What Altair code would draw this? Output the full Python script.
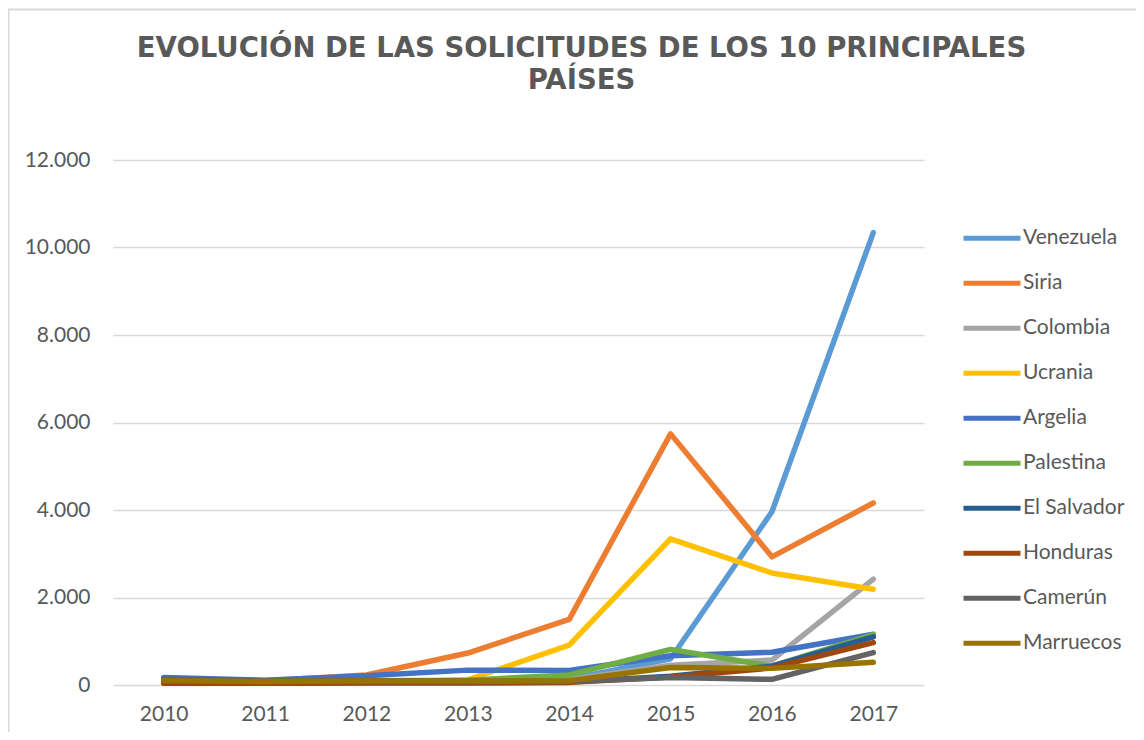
import altair as alt
import pandas as pd

years = [2010, 2011, 2012, 2013, 2014, 2015, 2016, 2017]
series = ["Venezuela", "Siria", "Colombia", "Ucrania", "Argelia", "Palestina",
          "El Salvador", "Honduras", "Camerún", "Marruecos"]
colors = ["#5B9BD5", "#ED7D31", "#A5A5A5", "#FFC000", "#4472C4", "#70AD47",
          "#255E91", "#9E480E", "#636363", "#997300"]

venezuela = [110, 60, 80, 60, 130, 600, 3960, 10340]
siria = [60, 100, 230, 730, 1500, 5740, 2930, 4160]
colombia = [100, 80, 90, 80, 120, 450, 570, 2420]
ucrania = [40, 60, 60, 120, 910, 3340, 2560, 2190]
argelia = [170, 110, 210, 340, 330, 670, 750, 1160]
palestina = [80, 90, 100, 110, 230, 815, 430, 1150]
el_salvador = [50, 40, 50, 50, 70, 200, 430, 1100]
honduras = [40, 40, 50, 50, 60, 180, 390, 970]
camerun = [130, 100, 100, 90, 80, 170, 130, 740]
marruecos = [100, 80, 90, 90, 100, 400, 380, 520]

values = [venezuela, siria, colombia, ucrania, argelia, palestina,
          el_salvador, honduras, camerun, marruecos]

rows = []
for si, (name, vals) in enumerate(zip(series, values)):
    for y, v in zip(years, vals):
        rows.append({"Año": str(y), "País": name, "Solicitudes": v, "orden": si})
df = pd.DataFrame(rows)

grey = "#595959"

lines = alt.Chart(df).mark_line(strokeWidth=5.5, strokeCap="round", strokeJoin="round").encode(
    x=alt.X("Año:O", scale=alt.Scale(paddingOuter=0.5, paddingInner=1),
            axis=alt.Axis(title=None, labelAngle=0, ticks=False, domain=False, grid=False,
                          labelFont="Lato", labelFontSize=21, labelColor=grey, labelPadding=18)),
    y=alt.Y("Solicitudes:Q", scale=alt.Scale(domain=[0, 12000]),
            axis=alt.Axis(title=None, values=[0, 2000, 4000, 6000, 8000, 10000, 12000],
                          labelExpr="replace(format(datum.value, ','), ',', '.')",
                          ticks=False, domain=False, gridColor="#D9D9D9", gridWidth=1.3,
                          labelFont="Lato", labelFontSize=21, labelColor=grey, labelPadding=23)),
    color=alt.Color("País:N", sort=series,
                    scale=alt.Scale(domain=series, range=colors),
                    legend=alt.Legend(title=None, orient="none", legendX=848, legendY=56,
                                      symbolType="stroke", symbolSize=3249, symbolStrokeWidth=5,
                                      clipHeight=44.7, rowPadding=0,
                                      labelFont="Lato", labelFontSize=21, labelColor=grey,
                                      labelOffset=0)),
    detail="orden:O",
)

border = alt.Chart(pd.DataFrame({"b": [0]})).mark_rule(color="#D9D9D9", strokeWidth=2).encode(
    x=alt.value(-105), x2=alt.value(1040), y=alt.value(-150.5)
)
border_left = alt.Chart(pd.DataFrame({"b": [0]})).mark_rule(color="#D9D9D9", strokeWidth=2).encode(
    x=alt.value(-104.5), y=alt.value(-151), y2=alt.value(580)
)

chart = alt.layer(border, border_left, lines).properties(
    width=811,
    height=525,
    autosize=alt.AutoSizeParams(type="none"),
    padding={"left": 105, "top": 152, "right": 212, "bottom": 47},
    title=alt.TitleParams(
        text=["EVOLUCIÓN DE LAS SOLICITUDES DE LOS 10 PRINCIPALES", "PAÍSES"],
        font="DejaVu Sans", fontSize=27.5, fontWeight="bold", color=grey,
        anchor="middle", frame="group", dx=63, offset=-86, lineHeight=32,
    ),
).configure(background="white").configure_view(stroke=None, strokeWidth=0)

chart.save("out.html", embed_options={"renderer": "svg", "actions": False})
